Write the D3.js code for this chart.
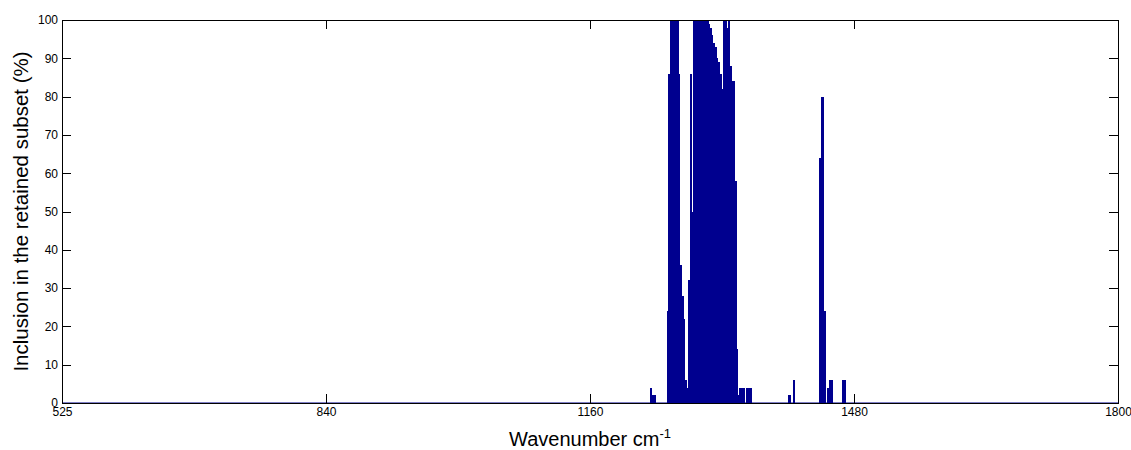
<!DOCTYPE html>
<html>
<head>
<meta charset="utf-8">
<script src="https://cdn.jsdelivr.net/npm/d3@7"></script>
<style>
  body { margin: 0; background: #fff; }
  svg { display: block; }
  text { font-family: "Liberation Sans", Arial, sans-serif; }
</style>
</head>
<body>
<div id="chart"></div>
<script>
// Wavenumbers (cm-1) of variables that were kept at least once
const wavenumbers = [
    1236, 1238, 1240,
    1256, 1258, 1260, 1262, 1264, 1266, 1268, 1270, 1272, 1274, 1276, 1278, 1280,
    1282, 1284, 1286, 1288, 1290, 1292, 1294, 1296, 1298, 1300, 1302, 1304, 1306,
    1308, 1310, 1312, 1314, 1316, 1318, 1320, 1322, 1324, 1326, 1328, 1330, 1332,
    1334, 1336, 1338, 1340, 1342, 1344, 1346, 1348, 1352, 1354, 1356,
    1402, 1404, 1408,
    1440, 1442, 1444, 1446, 1450, 1452, 1454,
    1468, 1470
];

// Inclusion in the retained subset (%)
const inclusion = [
    4, 2, 2,
    24, 86, 100, 100, 100, 100, 100, 86, 36, 28, 22, 6, 4,
    32, 86, 50, 100, 100, 100, 100, 100, 100, 100, 100, 100, 99,
    98, 96, 94, 93, 90, 89, 86, 82, 100, 100, 98, 100, 88,
    84, 84, 58, 14, 2, 4, 4, 4, 4, 4, 4,
    2, 2, 6,
    64, 80, 80, 24, 4, 6, 6,
    6, 6
];

const xTickValues = [525, 843.75, 1162.5, 1481.25, 1800];
const xTickLabels = ["525", "840", "1160", "1480", "1800"];
const yTickValues = [0, 10, 20, 30, 40, 50, 60, 70, 80, 90, 100];

const step = 2; // spacing between variables, cm-1
const barColor = "#00008f";

const W = 1131, H = 450;
const margin = { top: 20, right: 13, bottom: 47, left: 62 };
const width = W - margin.left - margin.right;
const height = H - margin.top - margin.bottom;

const svg = d3.select("#chart")
    .append("svg")
    .attr("width", W)
    .attr("height", H);

const g = svg.append("g")
    .attr("transform", `translate(${margin.left},${margin.top})`);

const x = d3.scaleLinear().domain([525, 1800]).range([0, width]);
const y = d3.scaleLinear().domain([0, 100]).range([height, 0]);

const barW = x(525 + step) - x(525);
const data = wavenumbers.map((w, i) => ({ w: w, v: inclusion[i] }));

// bars - crisp edges so neighbouring bars merge into solid blocks;
// a little extra width so no single bar collapses to zero pixels
g.selectAll(".bar")
    .data(data)
    .enter().append("rect")
    .attr("class", "bar")
    .attr("x", d => x(d.w) - barW / 2)
    .attr("y", d => y(d.v))
    .attr("width", barW + 0.5)
    .attr("height", d => y(0) - y(d.v))
    .style("fill", barColor)
    .style("shape-rendering", "crispEdges");

// zero-height bars leave a blue line along the baseline
g.append("line")
    .attr("x1", x(525)).attr("x2", x(1800))
    .attr("y1", y(0)).attr("y2", y(0))
    .style("stroke", barColor)
    .style("stroke-width", 1.2);

// axes, ticks pointing inwards on every side
const tick = 9;
function styleAxis(sel) {
    sel.selectAll("path, line").style("stroke", "#000").style("shape-rendering", "crispEdges");
    sel.selectAll("text").style("font-size", "12px").style("fill", "#000");
}

g.append("g")
    .attr("transform", `translate(0,${height})`)
    .call(d3.axisBottom(x).tickValues(xTickValues)
        .tickFormat((d, i) => xTickLabels[i])
        .tickSize(-tick).tickSizeOuter(0).tickPadding(4))
    .call(styleAxis);

g.append("g")
    .call(d3.axisTop(x).tickValues(xTickValues).tickFormat("")
        .tickSize(-tick).tickSizeOuter(0))
    .call(styleAxis);

g.append("g")
    .call(d3.axisLeft(y).tickValues(yTickValues)
        .tickSize(-tick).tickSizeOuter(0).tickPadding(4))
    .call(styleAxis);

g.append("g")
    .attr("transform", `translate(${width},0)`)
    .call(d3.axisRight(y).tickValues(yTickValues).tickFormat("")
        .tickSize(-tick).tickSizeOuter(0))
    .call(styleAxis);

// y label
svg.append("text")
    .attr("transform", `translate(28,${margin.top + height / 2}) rotate(-90)`)
    .attr("text-anchor", "middle")
    .style("font-size", "20.5px")
    .text("Inclusion in the retained subset (%)");

// x label with superscript
const xl = svg.append("text")
    .attr("x", margin.left + width / 2)
    .attr("y", 446)
    .attr("text-anchor", "middle")
    .style("font-size", "20px");
xl.append("tspan").text("Wavenumber cm");
xl.append("tspan").attr("dy", -8).style("font-size", "13px").text("-1");
</script>
</body>
</html>
